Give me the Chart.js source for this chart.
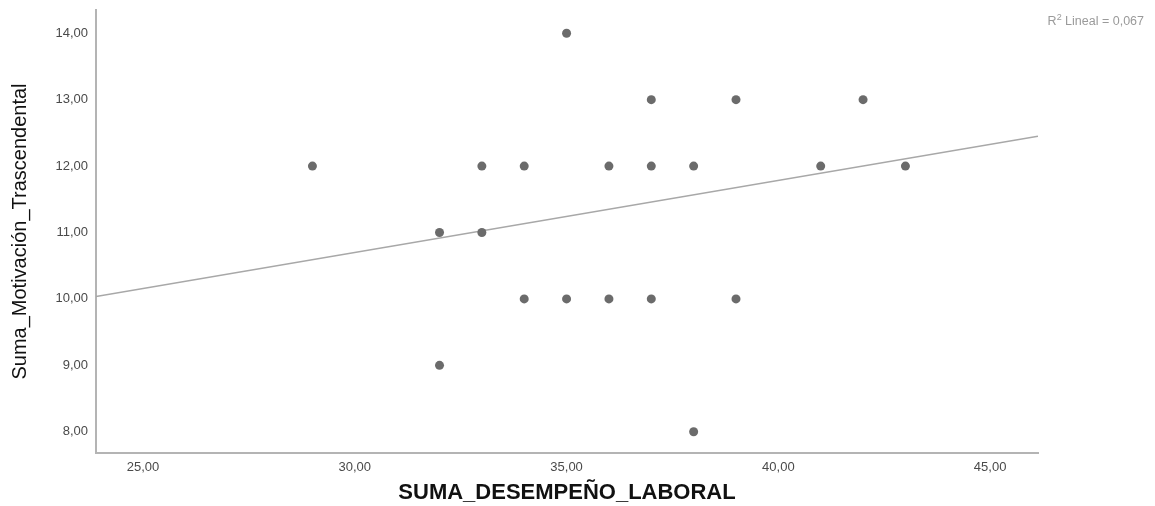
<!DOCTYPE html>
<html>
<head>
<meta charset="utf-8">
<script src="https://cdn.jsdelivr.net/npm/chart.js@4.4.0/dist/chart.umd.min.js"></script>
<style>
  body { margin: 0; background: #fff; }
  #wrap { width: 1155px; height: 506px; }
</style>
</head>
<body>
<div id="wrap"><canvas id="grafico" width="1155" height="506"></canvas></div>
<script>
// puntos (desempeño, motivacion)
const desempeno = [29, 32, 32, 33, 33, 34, 34, 35, 35, 36, 36, 37, 37, 37, 38, 38, 39, 39, 41, 42, 43];
const motivacion = [12, 11, 9, 12, 11, 12, 10, 14, 10, 12, 10, 13, 12, 10, 12, 8, 13, 10, 12, 13, 12];

// recta de ajuste lineal (extremos leidos)
const ajusteX = [23.89, 46.13];
const ajusteY = [10.035, 12.45];

const xMin = 23.89, xMax = 46.13;
const yMin = 7.68, yMax = 14.35;
const r2 = "0,067";

const puntos = desempeno.map((d, i) => ({ x: d, y: motivacion[i] }));
const recta = ajusteX.map((d, i) => ({ x: d, y: ajusteY[i] }));

const formato = v => v.toFixed(2).replace('.', ',');
const fuente = '"Liberation Sans", Arial, sans-serif';

// texto "R2 Lineal = ..." arriba a la derecha, con el 2 en superindice
const textoR2Plugin = {
    id: 'textoR2',
    afterDraw(chart) {
        const ctx = chart.ctx;
        ctx.save();
        ctx.fillStyle = '#9a9a9a';
        ctx.textBaseline = 'alphabetic';
        ctx.textAlign = 'left';
        const resto = ' Lineal = ' + r2;
        ctx.font = '12.5px ' + fuente;
        const wR = ctx.measureText('R').width;
        const wResto = ctx.measureText(resto).width;
        ctx.font = '9px ' + fuente;
        const w2 = ctx.measureText('2').width;
        let x = 1144 - wR - w2 - wResto;
        const y = 25;
        ctx.font = '12.5px ' + fuente;
        ctx.fillText('R', x, y);
        x += wR;
        ctx.font = '9px ' + fuente;
        ctx.fillText('2', x, y - 5);
        x += w2;
        ctx.font = '12.5px ' + fuente;
        ctx.fillText(resto, x, y);
        ctx.restore();
    }
};

new Chart(document.getElementById("grafico"), {
    type: 'scatter',
    data: {
        datasets: [{
            data: puntos,
            backgroundColor: '#6b6b6b',
            borderColor: '#6b6b6b',
            pointRadius: 4.5,
            pointHoverRadius: 4.5,
            borderWidth: 0
        }, {
            type: 'line',
            data: recta,
            borderColor: '#a8a8a8',
            borderWidth: 1.5,
            pointRadius: 0,
            fill: false
        }]
    },
    options: {
        responsive: false,
        animation: false,
        devicePixelRatio: 1,
        layout: { padding: { top: 10, right: 117, left: 0, bottom: 0 } },
        plugins: {
            legend: { display: false },
            tooltip: { enabled: false }
        },
        scales: {
            x: {
                type: 'linear',
                min: xMin,
                max: xMax,
                afterFit: s => { s.height = 53; s.paddingLeft = 0; s.paddingRight = 0; },
                grid: { drawOnChartArea: false, drawTicks: false },
                border: { color: '#b4b4b4', width: 2 },
                ticks: {
                    stepSize: 5,
                    includeBounds: false,
                    padding: 7,
                    color: '#4a4a4a',
                    font: { family: fuente, size: 13 },
                    callback: v => formato(v)
                },
                title: {
                    display: true,
                    text: 'SUMA_DESEMPEÑO_LABORAL',
                    color: '#111',
                    padding: { top: 0, bottom: 0 },
                    font: { family: fuente, size: 22, weight: 'bold' }
                }
            },
            y: {
                type: 'linear',
                min: yMin,
                max: yMax,
                afterFit: s => { s.width = 96; s.paddingTop = 0; s.paddingBottom = 0; },
                grid: { drawOnChartArea: false, drawTicks: false },
                border: { color: '#b4b4b4', width: 2 },
                ticks: {
                    stepSize: 1,
                    includeBounds: false,
                    padding: 8,
                    color: '#4a4a4a',
                    font: { family: fuente, size: 13 },
                    callback: v => formato(v)
                },
                title: {
                    display: true,
                    text: 'Suma_Motivación_Trascendental',
                    color: '#111',
                    padding: { top: 8, bottom: 0 },
                    font: { family: fuente, size: 20 }
                }
            }
        }
    },
    plugins: [textoR2Plugin]
});
</script>
</body>
</html>
